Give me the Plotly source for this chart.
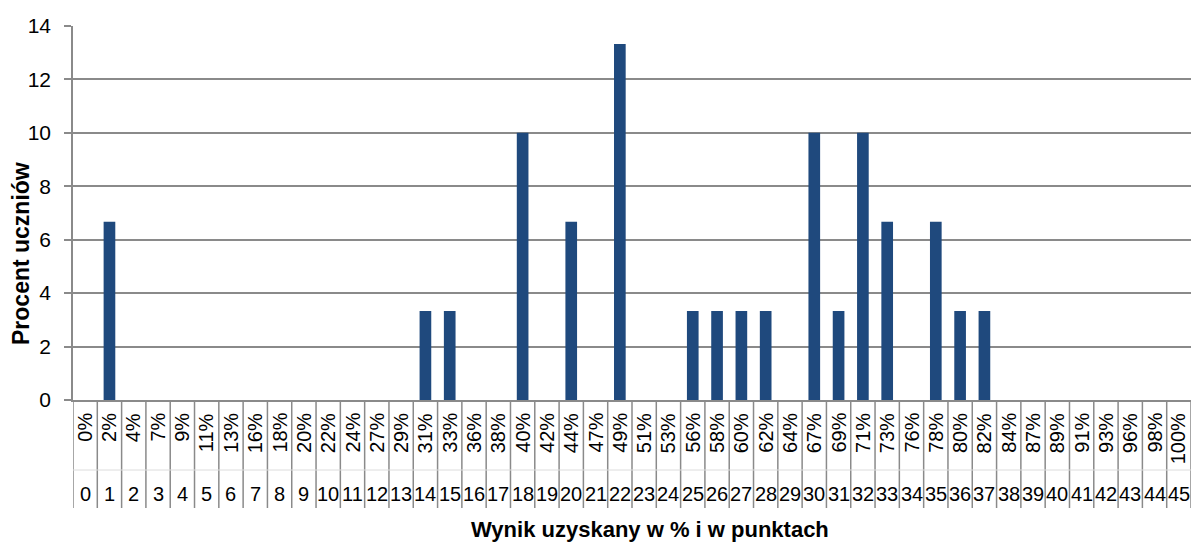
import plotly.graph_objects as go

points = list(range(46))
percent_labels = ["0%", "2%", "4%", "7%", "9%", "11%", "13%", "16%", "18%", "20%",
                  "22%", "24%", "27%", "29%", "31%", "33%", "36%", "38%", "40%", "42%",
                  "44%", "47%", "49%", "51%", "53%", "56%", "58%", "60%", "62%", "64%",
                  "67%", "69%", "71%", "73%", "76%", "78%", "80%", "82%", "84%", "87%",
                  "89%", "91%", "93%", "96%", "98%", "100%"]
students_pct = [0, 6.67, 0, 0, 0, 0, 0, 0, 0, 0,
                0, 0, 0, 0, 3.33, 3.33, 0, 0, 10.0, 0,
                6.67, 0, 13.33, 0, 0, 3.33, 3.33, 3.33, 3.33, 0,
                10.0, 3.33, 10.0, 6.67, 0, 6.67, 3.33, 3.33, 0, 0,
                0, 0, 0, 0, 0, 0]

y_title = "Procent uczniów"
x_title = "Wynik uzyskany w % i w punktach"

W, H = 1194, 542
ML, MR, MT, MB = 73, 3, 26, 142
PH = H - MT - MB
PW = W - ML - MR

def py(px_from_axis):
    # convert pixel offset below the x axis line into paper coordinates
    return -px_from_axis / PH

FONT = "Liberation Sans, Arial, sans-serif"
GRID = "#8a8a8a"

fig = go.Figure()
fig.add_trace(go.Bar(x=points, y=students_pct, width=0.48,
                     marker=dict(color="#1F497D", line=dict(width=0)),
                     hoverinfo="x+y"))

shapes = []
for k in range(len(points) + 1):
    shapes.append(dict(type="line", xref="x", yref="paper",
                       x0=k - 0.5, x1=k - 0.5, y0=0, y1=py(108),
                       line=dict(color=GRID, width=1.5)))
shapes.append(dict(type="line", xref="x", yref="paper",
                   x0=-0.5, x1=len(points) - 0.5, y0=py(70), y1=py(70),
                   line=dict(color="#dcdcdc", width=1)))

annotations = []
for k, lab in zip(points, percent_labels):
    annotations.append(dict(x=k, y=py(12), xref="x", yref="paper", text=lab,
                            showarrow=False, textangle=-90, yanchor="top",
                            xanchor="center", font=dict(size=20, color="black", family=FONT),
                            borderpad=0))
    annotations.append(dict(x=k, y=py(94), xref="x", yref="paper", text=str(k),
                            showarrow=False, yanchor="middle", xanchor="center",
                            font=dict(size=20, color="black", family=FONT), borderpad=0))
annotations.append(dict(x=(650 - ML) / PW, y=py(129), xref="paper", yref="paper",
                        text="<b>" + x_title + "</b>", showarrow=False,
                        xanchor="center", yanchor="middle",
                        font=dict(size=22, color="black", family=FONT)))
annotations.append(dict(x=(21 - ML) / PW, y=(400 - 254) / PH, xref="paper", yref="paper",
                        text="<b>" + y_title + "</b>", showarrow=False, textangle=-90,
                        xanchor="center", yanchor="middle",
                        font=dict(size=23, color="black", family=FONT)))

fig.update_layout(
    width=W, height=H,
    margin=dict(l=ML, r=MR, t=MT, b=MB, pad=0),
    paper_bgcolor="white", plot_bgcolor="white",
    showlegend=False, bargap=0.5,
    font=dict(family=FONT, size=20, color="black"),
    shapes=shapes, annotations=annotations,
    xaxis=dict(range=[-0.5, len(points) - 0.5], showticklabels=False, showgrid=False,
               zeroline=False, showline=True, linecolor=GRID, linewidth=2, ticks=""),
    yaxis=dict(range=[0, 14], dtick=2, showgrid=True, gridcolor=GRID, gridwidth=1.5,
               zeroline=False, showline=True, linecolor=GRID, linewidth=1.5,
               ticks="outside", ticklen=7, tickcolor=GRID, tickwidth=1.5,
               ticklabelstandoff=9,
               tickfont=dict(size=21, color="black", family=FONT)),
)

fig.write_html("out.html", config={"displayModeBar": False})

# remove the browser's default page margin so the figure sits at the top-left corner
with open("out.html", "r", encoding="utf-8") as f:
    html = f.read()
html = html.replace("<head>", "<head><style>html,body{margin:0;padding:0;overflow:hidden;}</style>", 1)
with open("out.html", "w", encoding="utf-8") as f:
    f.write(html)
